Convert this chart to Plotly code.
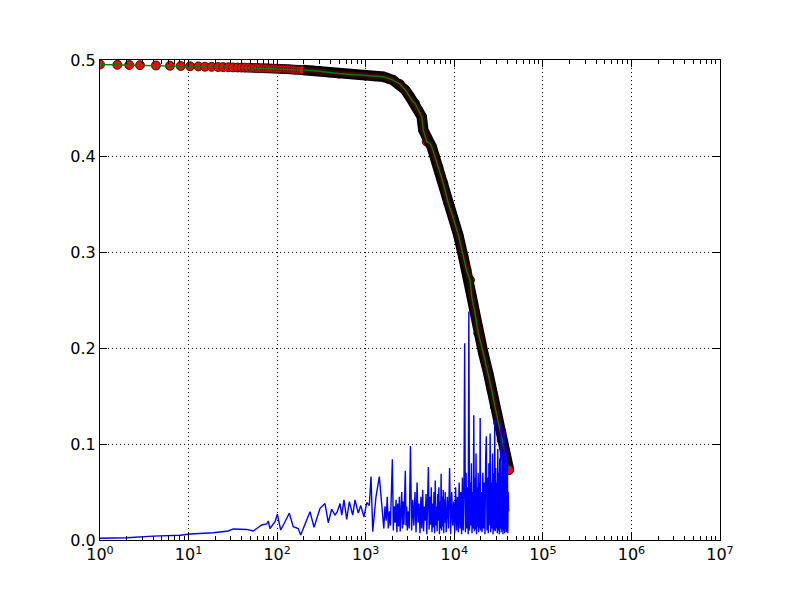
import plotly.graph_objects as go

# ---- main decreasing curve (green line, red markers) ----
curve_x = [1, 1.57, 2.14, 2.83, 4.28, 6.17, 8.15, 10.4, 12.9, 15.3, 18.2, 21.6, 24.6, 28.1,
           31.8, 35.7, 39.6, 43.4, 47.5, 52, 56.2, 60.8, 65.7, 71.1, 75.9, 80.9, 86.4, 92.2,
           98.3, 105, 111, 117, 123, 129, 136, 143, 151, 159, 168, 177, 186,
           196, 250, 300, 395, 500, 700, 982, 1300, 1581, 2033, 2438, 2778, 3162, 3447,
           3600, 3925, 4287, 4470, 4885, 5321, 5559, 6058, 6599, 7516, 8561, 9750, 11100,
           12650, 13740, 15060, 15730, 17140, 18680, 21270, 24220, 26440, 28830, 31420,
           34290, 37400, 41500]
curve_y = [0.4953, 0.495, 0.4948, 0.4946, 0.4943, 0.494, 0.4938, 0.4935, 0.4933, 0.493,
           0.4929, 0.4927, 0.4926, 0.4925, 0.4923, 0.4922, 0.4921, 0.492, 0.4919, 0.4918,
           0.4917, 0.4916, 0.4915, 0.4914, 0.4913, 0.4912, 0.4911, 0.491, 0.4909, 0.4908,
           0.4907, 0.4906, 0.4905, 0.4904, 0.4903, 0.4902, 0.49, 0.4899, 0.4898, 0.4897, 0.4896,
           0.4895, 0.489, 0.4885, 0.487, 0.486, 0.4852, 0.484, 0.4832, 0.4826, 0.479, 0.475,
           0.469, 0.4615, 0.456, 0.455, 0.448, 0.441, 0.427, 0.415, 0.413, 0.4097, 0.3993,
           0.3889, 0.3716, 0.3507, 0.3354, 0.3177, 0.2951, 0.2813, 0.2708, 0.2534, 0.2361,
           0.2153, 0.1945, 0.1736, 0.1563, 0.1389, 0.1216, 0.1042, 0.0903, 0.0729]

# ---- noisy blue series ----
blue_x_low = [1, 2.0, 4.0, 8.0, 10.4, 19, 28.1, 32, 45.3, 53.8, 58.8, 66.9, 76.2, 79.5, 83,
              94.6, 100.5, 109.7, 122.7, 137, 152, 173, 184.5, 212, 235, 261, 305, 347, 378,
              413, 450, 478, 513, 536, 569, 610, 653, 713, 757, 825, 878, 957, 1026, 1098,
              1148, 1200, 1306, 1425, 1556]
blue_y_low = [0.0018, 0.0024, 0.004, 0.005, 0.0063, 0.0076, 0.0094, 0.0115, 0.011, 0.0094,
              0.012, 0.0156, 0.0167, 0.0198, 0.012, 0.019, 0.0268, 0.0104, 0.019, 0.0278,
              0.0139, 0.012, 0.0052, 0.019, 0.0295, 0.0132, 0.033, 0.038, 0.018, 0.032, 0.026,
              0.0295, 0.038, 0.026, 0.0417, 0.0215, 0.040, 0.026, 0.0417, 0.028, 0.036, 0.024,
              0.039, 0.036, 0.066, 0.0087, 0.045, 0.066, 0.024]
blue_x_a = [1600, 1650, 1700, 1750, 1800, 1850, 1900, 1950, 2000, 2050, 2100, 2150, 2200,
            2250, 2300, 2350, 2400, 2450, 2500, 2550, 2600, 2650, 2700, 2750, 2800, 2850,
            2900, 2950]
blue_y_a = [0.012, 0.035, 0.02, 0.045, 0.012, 0.03, 0.015, 0.05, 0.084, 0.01, 0.035, 0.018,
            0.042, 0.008, 0.038, 0.014, 0.045, 0.009, 0.03, 0.05, 0.012, 0.04, 0.016, 0.048,
            0.072, 0.015, 0.035, 0.01]
blue_x_b = [3000, 3100, 3200, 3300, 3400, 3500, 3600, 3700, 3800, 3900, 4000, 4100, 4200,
            4300, 4400, 4500, 4600, 4700, 4800, 4900, 5000, 5100, 5200, 5300, 5400, 5500,
            5600, 5700, 5800, 5900, 6000, 6100, 6200, 6300, 6400, 6500, 6600, 6700, 6800,
            6900, 7000, 7100, 7200, 7300, 7400, 7500, 7600, 7700, 7800, 7900]
blue_y_b = [0.03, 0.012, 0.098, 0.01, 0.042, 0.015, 0.05, 0.008, 0.06, 0.018, 0.038, 0.007,
            0.045, 0.012, 0.052, 0.009, 0.035, 0.02, 0.048, 0.006, 0.04, 0.076, 0.011, 0.045,
            0.016, 0.055, 0.008, 0.038, 0.013, 0.05, 0.007, 0.062, 0.015, 0.035, 0.009, 0.048,
            0.02, 0.055, 0.006, 0.04, 0.012, 0.069, 0.01, 0.045, 0.014, 0.052, 0.007, 0.042,
            0.018, 0.05]
blue_x_c = [8100, 8350, 8600, 8850, 9100, 9350, 9600, 9850, 10100, 10350, 10600, 10850,
            11100, 11350, 11600, 11850, 12100, 12350, 12600, 12850, 13100, 13350, 13600,
            13850, 14100, 14350, 14600, 14850, 15100, 15350, 15600, 15850, 16100, 16350,
            16600, 16850, 17100, 17350, 17600, 17850, 18100, 18350, 18600, 18850, 19100,
            19350, 19600, 19850]
blue_y_c = [0.008, 0.045, 0.012, 0.075, 0.006, 0.05, 0.015, 0.04, 0.007, 0.055, 0.01, 0.045,
            0.008, 0.06, 0.012, 0.05, 0.006, 0.065, 0.01, 0.048, 0.205, 0.008, 0.07, 0.012,
            0.055, 0.006, 0.238, 0.01, 0.06, 0.015, 0.08, 0.007, 0.05, 0.012, 0.13, 0.009,
            0.065, 0.011, 0.09, 0.006, 0.055, 0.013, 0.07, 0.008, 0.06, 0.012, 0.127, 0.01]
blue_x_d = [20200, 20600, 21000, 21400, 21800, 22200, 22600, 23000, 23400, 23800, 24200,
            24600, 25000, 25400, 25800, 26200, 26600, 27000, 27400, 27800, 28200, 28600,
            29000, 29400, 29800, 30200, 30600, 31000, 31400, 31800, 32200, 32600, 33000,
            33400, 33800, 34200, 34600, 35000, 35400, 35800, 36200, 36600, 37000, 37400,
            37800, 38200, 38600, 39000, 39400, 39800, 40200, 40600, 41000]
blue_y_d = [0.05, 0.008, 0.07, 0.012, 0.06, 0.006, 0.085, 0.108, 0.01, 0.065, 0.007, 0.08,
            0.015, 0.111, 0.008, 0.06, 0.012, 0.09, 0.006, 0.07, 0.01, 0.125, 0.009, 0.075,
            0.012, 0.06, 0.007, 0.095, 0.01, 0.07, 0.006, 0.085, 0.012, 0.122, 0.008, 0.065,
            0.011, 0.09, 0.006, 0.08, 0.01, 0.115, 0.007, 0.07, 0.012, 0.095, 0.008, 0.06,
            0.01, 0.085, 0.007, 0.05, 0.03]

x_tick_vals = [1, 10, 100, 1000, 1e4, 1e5, 1e6, 1e7]
x_tick_text = ["10<sup>0</sup>", "10<sup>1</sup>", "10<sup>2</sup>", "10<sup>3</sup>",
               "10<sup>4</sup>", "10<sup>5</sup>", "10<sup>6</sup>", "10<sup>7</sup>"]
y_tick_vals = [0.0, 0.1, 0.2, 0.3, 0.4, 0.5]
y_tick_text = ["0.0", "0.1", "0.2", "0.3", "0.4", "0.5"]

blue_x = blue_x_low + blue_x_a + blue_x_b + blue_x_c + blue_x_d
blue_y = blue_y_low + blue_y_a + blue_y_b + blue_y_c + blue_y_d

dense_x = [x for x in curve_x if x >= 190]
dense_y = [y for x, y in zip(curve_x, curve_y) if x >= 190]

fig = go.Figure()
# red markers
fig.add_trace(go.Scatter(x=curve_x, y=curve_y, mode="markers",
                         marker=dict(color="#ff0000", size=9,
                                     line=dict(color="black", width=0.8)),
                         hoverinfo="skip"))
# overlapped marker band in dense region
fig.add_trace(go.Scatter(x=dense_x, y=dense_y, mode="lines",
                         line=dict(color="#000000", width=10.5), hoverinfo="skip"))
fig.add_trace(go.Scatter(x=dense_x, y=dense_y, mode="lines",
                         line=dict(color="#3a0000", width=6), hoverinfo="skip"))
# last marker on top
fig.add_trace(go.Scatter(x=curve_x[-1:], y=curve_y[-1:], mode="markers",
                         marker=dict(color="#ff0000", size=9,
                                     line=dict(color="black", width=0.8)),
                         hoverinfo="skip"))
# green line
fig.add_trace(go.Scatter(x=curve_x, y=curve_y, mode="lines",
                         line=dict(color="#008000", width=1.4)))
# blue noisy line
fig.add_trace(go.Scatter(x=blue_x, y=blue_y, mode="lines",
                         line=dict(color="#0000ff", width=1.4)))

minor_vals = [m * 10 ** k for k in range(0, 7) for m in range(2, 10)]

axis_common = dict(showline=True, linecolor="black", linewidth=1.2, mirror="allticks",
                   ticks="inside", tickcolor="black", ticklen=7, tickwidth=1,
                   showgrid=True, gridcolor="black", gridwidth=0.8, griddash="1px,3px",
                   zeroline=False, tickfont=dict(family="DejaVu Sans", size=16, color="black"))

fig.update_xaxes(type="log", range=[0, 7], tickmode="array", tickvals=x_tick_vals,
                 ticktext=x_tick_text,
                 minor=dict(tickmode="array", tickvals=minor_vals, ticks="inside",
                            ticklen=4, tickcolor="black", showgrid=False),
                 **axis_common)
fig.update_yaxes(range=[0, 0.5], tickmode="array", tickvals=y_tick_vals,
                 ticktext=y_tick_text, **axis_common)

fig.update_layout(width=800, height=600, showlegend=False,
                  margin=dict(l=92, r=88, t=52, b=68),
                  paper_bgcolor="white", plot_bgcolor="white",
                  font=dict(family="DejaVu Sans", size=16, color="black"))

fig.write_html("out.html")
